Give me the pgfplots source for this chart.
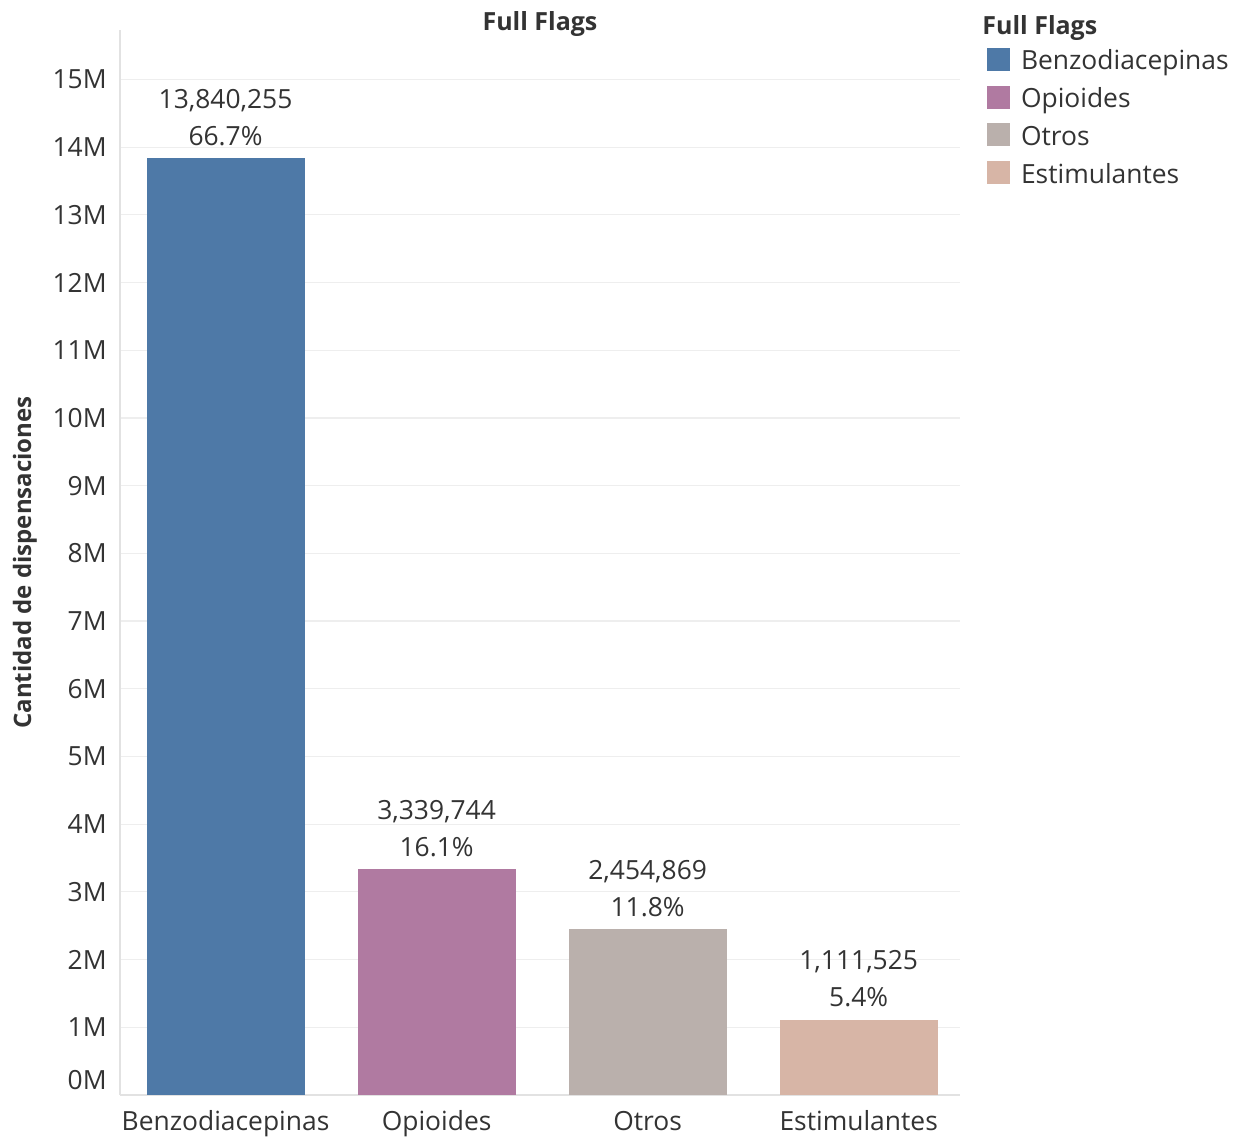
\documentclass[border=0pt]{standalone}
\usepackage{fontspec}
\setmainfont{Open Sans}
\usepackage{pgfplots}
\pgfplotsset{compat=1.18}
\definecolor{cBenzo}{HTML}{4E79A7}
\definecolor{cOpi}{HTML}{B07AA1}
\definecolor{cOtros}{HTML}{BAB0AC}
\definecolor{cEst}{HTML}{D7B5A6}
\definecolor{txt}{HTML}{333333}
\definecolor{gridc}{HTML}{EEEEEE}
\definecolor{axc}{HTML}{E2E2E2}
\newcommand\tfont{\fontsize{13.2}{18.5}\selectfont}
\begin{document}
\begin{tikzpicture}
\begin{axis}[
  scale only axis, width=420pt, height=532.5pt,
  xmin=-0.5, xmax=3.48, ymin=0, ymax=15730000,
  ybar,
  axis x line*=bottom, axis y line*=left,
  axis line style={draw=axc, line width=0.6pt},
  major tick length=0pt,
  xtick={0,1,2,3},
  xticklabels={Benzodiacepinas,Opioides,Otros,Estimulantes},
  xticklabel style={font=\tfont, text=txt, anchor=base, yshift=-18pt},
  ytick={0,1000000,2000000,3000000,4000000,5000000,6000000,7000000,8000000,9000000,10000000,11000000,12000000,13000000,14000000,15000000},
  yticklabels={\raisebox{15pt}{0M},1M,2M,3M,4M,5M,6M,7M,8M,9M,10M,11M,12M,13M,14M,15M},
  scaled y ticks=false,
  yticklabel style={font=\tfont, text=txt, anchor=east, inner sep=0pt, xshift=-6.5pt},
  ymajorgrids, major grid style={draw=gridc, line width=0.6pt},
  title={Full Flags},
  title style={font=\fontsize{12.5}{14}\selectfont\bfseries, text=txt, at={(rel axis cs:0.5,1)}, anchor=base, yshift=-6.5pt, inner sep=0pt},
  ylabel={Cantidad de dispensaciones},
  every axis y label/.style={at={(rel axis cs:0,0.5)}, xshift=-47.5pt, rotate=90, anchor=center, font=\fontsize{12}{14}\selectfont\bfseries, text=txt},
  nodes near coords style={font=\tfont, text=txt, align=center, inner sep=0pt, anchor=south, yshift=6pt},
  legend image code/.code={\fill[#1] (0pt,-4pt) rectangle (11.5pt,7.5pt);},
  legend style={at={(rel axis cs:1,1)}, anchor=north west, xshift=13.5pt, yshift=-9pt,
    draw=none, fill=none, inner sep=0pt, outer sep=0pt, row sep=4.85pt, column sep=5.5pt,
    font=\tfont, text=txt,
    nodes={inner sep=0pt, text height=10pt, text depth=3pt}},
  legend cell align=left,
  clip=false,
]
\addplot[fill=cBenzo, draw=none, bar width=79pt, bar shift=0pt,
  nodes near coords={13,840,255\\66.7\%}] coordinates {(0,13840255)};
\addlegendentry{Benzodiacepinas}
\addplot[fill=cOpi, draw=none, bar width=79pt, bar shift=0pt,
  nodes near coords={3,339,744\\16.1\%}] coordinates {(1,3339744)};
\addlegendentry{Opioides}
\addplot[fill=cOtros, draw=none, bar width=79pt, bar shift=0pt,
  nodes near coords={2,454,869\\11.8\%}] coordinates {(2,2454869)};
\addlegendentry{Otros}
\addplot[fill=cEst, draw=none, bar width=79pt, bar shift=0pt,
  nodes near coords={1,111,525\\5.4\%}] coordinates {(3,1111525)};
\addlegendentry{Estimulantes}
\node[font=\fontsize{12.5}{14}\selectfont\bfseries, text=txt, anchor=base west, inner sep=0pt] at ([xshift=11pt,yshift=-2.5pt]rel axis cs:1,1) {Full Flags};
\end{axis}
\pgfresetboundingbox
\path[use as bounding box] (-60pt,-22.5pt) rectangle (556.5pt,547.5pt);
\end{tikzpicture}
\end{document}
